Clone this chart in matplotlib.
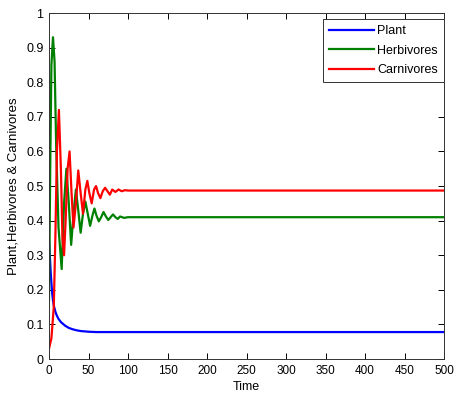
import matplotlib
matplotlib.use("Agg")
import matplotlib.pyplot as plt

# values (peaks / troughs of the damped oscillations)
plant_t = [0, 1, 2, 3, 4, 5, 6, 8, 10, 12, 15, 20, 25, 30, 35, 40, 45, 50, 60, 80, 100, 500]
plant_v = [0.345, 0.30, 0.255, 0.22, 0.19, 0.17, 0.155, 0.137, 0.125, 0.116, 0.107, 0.097, 0.090, 0.086, 0.083, 0.081, 0.080, 0.079, 0.078, 0.078, 0.078, 0.078]

herb_t = [0, 1.5, 3, 5, 7, 9, 12, 16, 19, 22, 25, 28, 31, 34, 37, 40, 43, 46, 49, 52, 55, 57.5,
          60, 63, 66, 69, 72, 75, 78, 81, 84, 87, 90, 95, 100, 500]
herb_v = [0.17, 0.55, 0.85, 0.93, 0.86, 0.62, 0.38, 0.26, 0.45, 0.55, 0.45, 0.33, 0.42, 0.49, 0.43, 0.365,
          0.42, 0.455, 0.42, 0.385, 0.415, 0.435, 0.415, 0.398, 0.41, 0.425, 0.412, 0.402, 0.41, 0.418,
          0.41, 0.405, 0.412, 0.408, 0.41, 0.41]

carn_t = [0, 3, 6, 8, 10, 12.5, 15, 17, 19, 21, 23.5, 26, 28.5, 31, 34, 37, 40, 43, 46, 48.5, 51,
          54, 57, 59.5, 62, 65, 68, 71, 74, 77, 80, 84, 88, 92, 96, 100, 500]
carn_v = [0.03, 0.06, 0.15, 0.35, 0.6, 0.72, 0.55, 0.35, 0.30, 0.40, 0.55, 0.60, 0.48, 0.38, 0.45, 0.545,
          0.48, 0.42, 0.49, 0.515, 0.48, 0.45, 0.49, 0.50, 0.48, 0.465, 0.485, 0.495, 0.485, 0.475, 0.49,
          0.483, 0.49, 0.485, 0.488, 0.487, 0.487]

x_ticks = [0, 50, 100, 150, 200, 250, 300, 350, 400, 450, 500]
y_ticks = [0, 0.1, 0.2, 0.3, 0.4, 0.5, 0.6, 0.7, 0.8, 0.9, 1]
y_labels = ["0", "0.1", "0.2", "0.3", "0.4", "0.5", "0.6", "0.7", "0.8", "0.9", "1"]

plt.rcParams["font.family"] = ["Liberation Sans", "DejaVu Sans"]

fig = plt.figure(figsize=(4.54, 3.95), dpi=100)
ax = fig.add_axes([0.108, 0.091, 0.870, 0.876])

ax.plot(plant_t, plant_v, color="#0000ff", lw=1.6, label="Plant")
ax.plot(herb_t, herb_v, color="#008000", lw=1.6, label="Herbivores")
ax.plot(carn_t, carn_v, color="#ff0000", lw=1.6, label="Carnivores")

ax.set_xlim(0, 500)
ax.set_ylim(0, 1)
ax.set_xticks(x_ticks)
ax.set_yticks(y_ticks)
ax.set_yticklabels(y_labels)
ax.tick_params(direction="in", top=True, right=True, length=4, width=0.7, labelsize=9, pad=4)
ax.tick_params(axis="x", labelsize=8.5)
for s in ax.spines.values():
    s.set_linewidth(0.7)
    s.set_color("#333333")

ax.set_xlabel("Time", fontsize=9, labelpad=3)
ax.set_ylabel("Plant,Herbivores & Carnivores", fontsize=9.5, labelpad=5)

leg = ax.legend(loc="upper right", bbox_to_anchor=(1.0, 0.983), fontsize=9, fancybox=False,
                edgecolor="#333333", handlelength=3.6, handletextpad=0.25, borderaxespad=0,
                borderpad=0.5, labelspacing=0.6, framealpha=1)
leg.get_frame().set_linewidth(0.7)

fig.savefig("out.png", dpi=100)
